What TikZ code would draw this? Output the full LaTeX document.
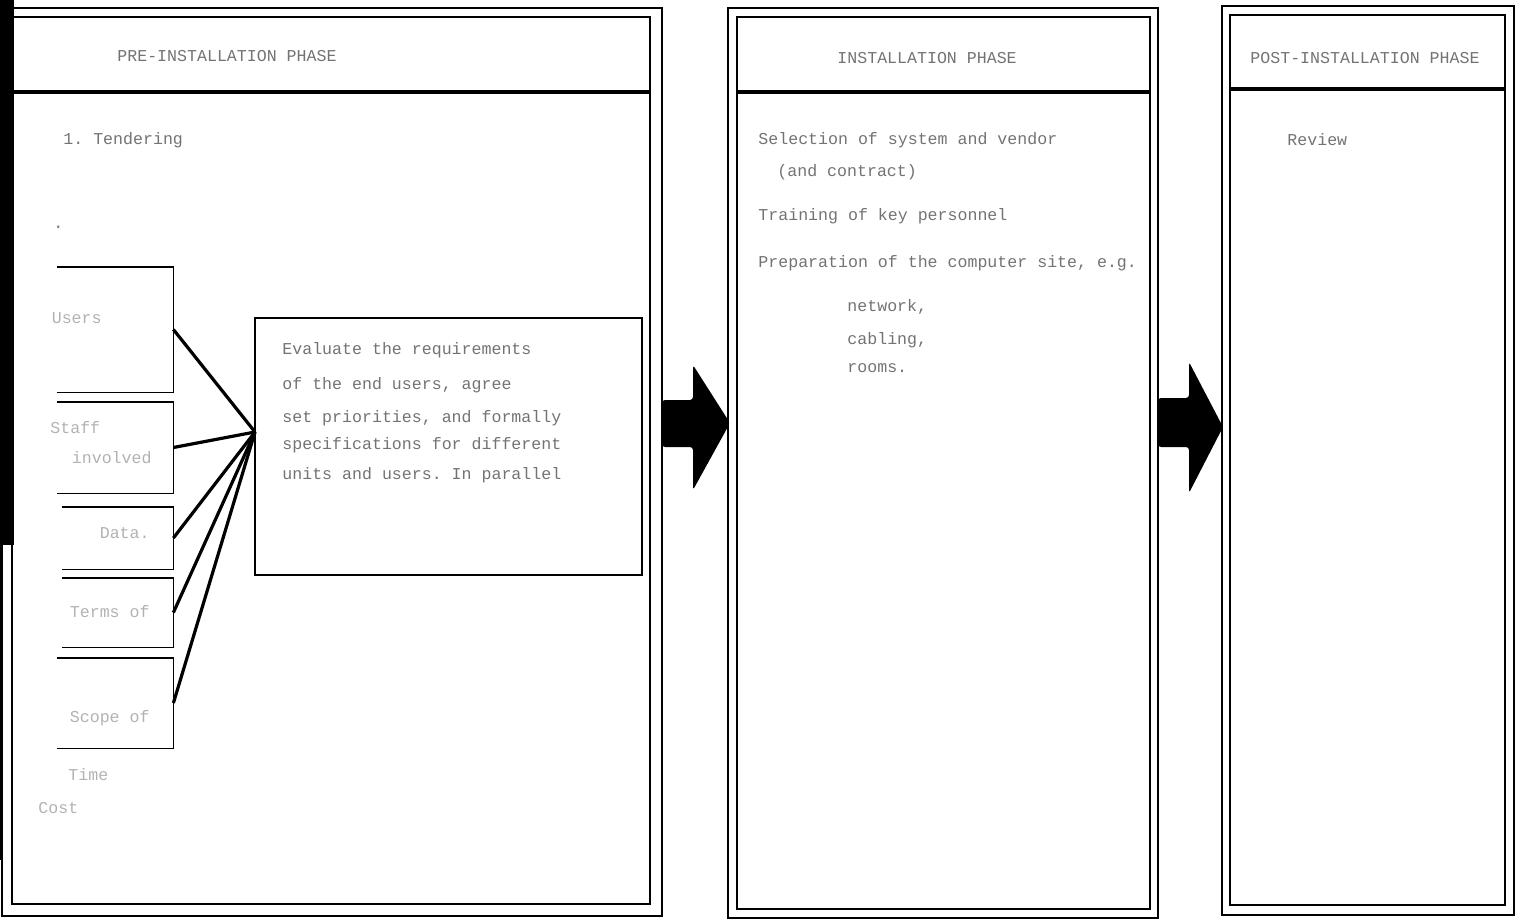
\documentclass[tikz,border=0pt]{standalone}
\usepackage{fontspec}
\setmonofont{Liberation Mono}
\usetikzlibrary{fit}

\begin{document}
\begin{tikzpicture}[x=0.5pt, y=-0.5pt,
    outerFrame/.style={draw, line width=1pt, inner sep=0pt},
    innerFrame/.style={draw, line width=1.4pt, inner sep=0pt},
    headLine/.style={line width=1.9pt},
    txt/.style={anchor=west, inner sep=0pt, text=inkGray, font=\ttfamily\fontsize{8.3}{10}\selectfont},
    faint/.style={txt, text=inkLight},
    sideBox/.style={inner sep=0pt},
    sideLine/.style={line width=0.9pt},
    link/.style={line width=1.6pt}]
    \definecolor{inkGray}{gray}{0.45}
    \definecolor{inkLight}{gray}{0.7}

    \useasboundingbox (0,0) rectangle (1518,921);

    % Scan edge on the left
    \fill (0,0) rectangle (14,545);
    \draw[line width=1.2pt] (1,545) -- (1,860);

    % Draw phase frames
    \node[outerFrame, fit={(2,8) (662,916)}] (phaseA) {};
    \node[innerFrame, fit={(12,17) (650,904)}] (phaseAin) {};
    \node[outerFrame, fit={(728,8) (1158,918)}] (phaseB) {};
    \node[innerFrame, fit={(737,17) (1150,909)}] (phaseBin) {};
    \node[outerFrame, fit={(1222,6) (1514,915)}] (phaseC) {};
    \node[innerFrame, fit={(1230,15) (1505,905)}] (phaseCin) {};

    % Header lines
    \draw[headLine] (12,92) -- (650,92);
    \draw[headLine] (737,92) -- (1150,92);
    \draw[headLine] (1230,89) -- (1505,89);

    % Titles
    \node[txt] (titleA) at (117,56) {PRE-INSTALLATION PHASE};
    \node[txt] (titleB) at (837,58) {INSTALLATION PHASE};
    \node[txt] (titleC) at (1250,58) {POST-INSTALLATION PHASE};

    % Phase A: planning part
    \node[txt] (stepA) at (63,140) {1. Tendering};
    \node[txt] (dotA) at (53,227) {.};

    % Side boxes (cut at the left edge)
    \node[sideBox, fit={(57,267) (173,392)}] (boxA) {};
    \node[sideBox, fit={(57,402) (173,493)}] (boxB) {};
    \node[sideBox, fit={(62,507) (173,569)}] (boxC) {};
    \node[sideBox, fit={(62,578) (173,647)}] (boxD) {};
    \node[sideBox, fit={(57,658) (173,748)}] (boxE) {};
    \foreach \b in {boxA,boxB,boxC,boxD,boxE}
        \draw[sideLine] (\b.north west) -| (\b.south east) -- (\b.south west);

    \node[faint, anchor=east] (labA) at (102,318) {Users};
    \node[faint] (labB1) at (50,428) {Staff};
    \node[faint, anchor=east] (labB2) at (152,458) {involved};
    \node[faint, anchor=east] (labC) at (150,533) {Data.};
    \node[faint, anchor=east] (labD) at (150,612) {Terms of};
    \node[faint, anchor=east] (labE) at (150,718) {Scope of};
    \node[faint] (noteA) at (68,775) {Time};
    \node[faint] (noteB) at (38,808) {Cost};

    % Planning box and its links
    \node[draw, line width=0.9pt, inner sep=0pt, fit={(255,318) (642,575)}] (planBox) {};
    \foreach \y/\line in {350/Evaluate the requirements,
                          385/{of the end users, agree},
                          418/{set priorities, and formally},
                          445/specifications for different,
                          475/units and users. In parallel}
        \node[txt] at (282,\y) {\line};

    \coordinate (hub) at (255,432);
    \foreach \b in {boxA,boxB,boxC,boxD,boxE}
        \draw[link] (\b.east) -- (hub);

    % Phase B
    \node[txt] (selB) at (758,140) {Selection of system and vendor};
    \node[txt] (conB) at (777,172) {(and contract)};
    \node[txt] (trainB) at (758,216) {Training of key personnel};
    \node[txt] (siteB) at (758,263) {Preparation of the computer site, e.g.};
    \node[txt] (itemB1) at (847,307) {network,};
    \node[txt] (itemB2) at (847,340) {cabling,};
    \node[txt] (itemB3) at (847,368) {rooms.};

    % Phase C
    \node[txt] (revC) at (1287,140) {Review};

    % Block arrows between phases
    \fill[rounded corners=1.5pt] (662,400) -- (693,400) -- (693,365) -- (730,423)
        -- (693,490) -- (693,447) -- (662,447) -- cycle;
    \fill[rounded corners=1.5pt] (1158,398) -- (1189,398) -- (1189,362) -- (1223,427)
        -- (1189,493) -- (1189,447) -- (1158,447) -- cycle;

\end{tikzpicture}
\end{document}
